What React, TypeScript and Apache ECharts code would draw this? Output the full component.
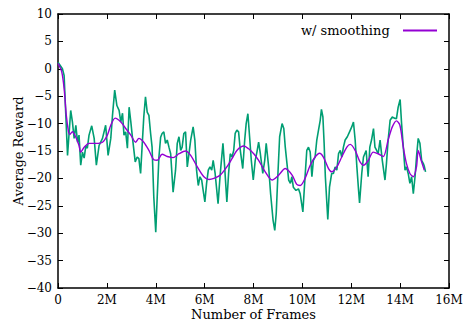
import React, { useEffect, useRef } from "react";
import * as echarts from "echarts";

// Raw average reward (green), frames in millions
const rawFrames = [
  0.0, 0.18, 0.25, 0.39, 0.52, 0.59, 0.66, 0.73, 0.8, 0.86, 0.93, 1.0, 1.07, 1.14, 1.2, 1.27, 1.38, 1.48, 1.57, 1.68,
  1.82, 1.95, 2.05, 2.16, 2.23, 2.32, 2.41, 2.5, 2.57, 2.64, 2.7, 2.77, 2.84, 2.91, 2.98, 3.05, 3.16, 3.24, 3.31, 3.38,
  3.44, 3.51, 3.58, 3.65, 3.72, 3.79, 3.85, 3.92, 4.0, 4.06, 4.13, 4.2, 4.26, 4.33, 4.4, 4.47, 4.54, 4.61, 4.71, 4.81,
  4.88, 4.95, 5.02, 5.08, 5.15, 5.22, 5.29, 5.36, 5.43, 5.53, 5.6, 5.67, 5.74, 5.81, 5.88, 5.94, 6.01, 6.08, 6.15, 6.22,
  6.29, 6.35, 6.43, 6.55, 6.64, 6.75, 6.82, 6.91, 6.98, 7.05, 7.12, 7.19, 7.25, 7.32, 7.39, 7.46, 7.56, 7.64, 7.7, 7.77,
  7.84, 7.91, 7.99, 8.07, 8.14, 8.21, 8.28, 8.38, 8.46, 8.52, 8.62, 8.7, 8.8, 8.87, 8.93, 9.0, 9.07, 9.17, 9.24, 9.3,
  9.37, 9.44, 9.51, 9.57, 9.63, 9.74, 9.84, 9.91, 10.02, 10.11, 10.18, 10.25, 10.32, 10.39, 10.45, 10.52, 10.59, 10.66, 10.73, 10.78,
  10.84, 10.89, 10.94, 11.04, 11.11, 11.2, 11.27, 11.34, 11.41, 11.48, 11.55, 11.61, 11.68, 11.75, 11.84, 11.93, 12.02, 12.09, 12.16, 12.23,
  12.3, 12.34, 12.43, 12.5, 12.61, 12.69, 12.76, 12.83, 12.91, 12.97, 13.04, 13.1, 13.18, 13.27, 13.38, 13.44, 13.51, 13.59, 13.68, 13.76,
  13.85, 13.92, 14.0, 14.06, 14.13, 14.2, 14.26, 14.33, 14.4, 14.47, 14.54, 14.61, 14.67, 14.74, 14.81, 14.88, 14.95, 14.99, 15.04,
];
const rawReward = [
  1.2, 0.0, -1.2, -15.8, -7.6, -9.7, -12.7, -10.3, -13.4, -12.1, -17.6, -15.2, -16.3, -14.0, -14.5, -12.1, -10.4, -12.7, -17.6, -14.0,
  -12.7, -10.3, -15.8, -12.7, -8.5, -3.9, -6.7, -7.6, -9.7, -8.1, -12.1, -11.5, -14.5, -7.0, -9.7, -12.7, -17.0, -16.1, -16.4, -19.1,
  -14.3, -8.8, -5.1, -7.9, -8.5, -11.8, -14.3, -23.4, -29.8, -23.4, -16.1, -12.5, -11.8, -11.5, -13.6, -13.0, -14.3, -15.5, -22.5, -18.5,
  -13.6, -12.4, -14.9, -14.3, -11.8, -11.5, -17.9, -15.5, -13.0, -10.6, -13.0, -18.5, -21.3, -19.7, -20.3, -22.2, -24.3, -20.9, -18.5, -17.9,
  -18.5, -16.7, -19.1, -24.6, -19.1, -13.6, -17.9, -24.3, -19.1, -15.5, -16.1, -14.9, -11.8, -11.2, -11.5, -14.9, -18.2, -13.0, -10.0, -8.2,
  -12.4, -16.7, -20.3, -16.7, -15.2, -13.4, -15.5, -19.1, -16.7, -13.6, -17.9, -22.8, -27.6, -29.5, -26.4, -19.1, -12.4, -10.0, -10.9, -14.3,
  -17.3, -20.3, -20.9, -19.7, -21.6, -22.2, -21.9, -22.8, -26.1, -19.7, -14.9, -14.3, -15.2, -19.7, -16.7, -16.1, -13.0, -11.2, -9.4, -7.4,
  -8.8, -13.6, -19.7, -27.5, -21.6, -19.1, -19.1, -17.9, -18.5, -15.5, -14.9, -16.1, -14.3, -13.0, -12.4, -11.5, -10.6, -9.7, -13.0, -17.9,
  -22.2, -24.5, -19.1, -16.1, -14.9, -19.7, -14.3, -13.0, -10.9, -14.3, -14.9, -15.5, -13.0, -16.7, -20.3, -17.3, -13.0, -9.4, -8.8, -9.0,
  -9.1, -7.0, -5.6, -10.0, -14.3, -18.5, -17.9, -19.1, -20.9, -19.7, -22.8, -19.7, -16.1, -12.7, -13.6, -16.7, -17.3, -17.8, -18.8,
];

// Smoothed average reward (purple)
const smoothFrames = [
  0.0, 0.15, 0.25, 0.34, 0.43, 0.48, 0.59, 0.73, 0.86, 0.93, 1.07, 1.27, 1.55, 1.82, 2.02, 2.16, 2.34, 2.57, 2.77, 2.98,
  3.18, 3.31, 3.51, 3.72, 3.92, 4.06, 4.26, 4.47, 4.71, 4.95, 5.22, 5.43, 5.7, 5.97, 6.18, 6.38, 6.64, 6.91, 7.12, 7.32,
  7.6, 7.8, 8.01, 8.21, 8.48, 8.76, 9.03, 9.3, 9.58, 9.77, 9.91, 10.11, 10.32, 10.52, 10.7, 10.86, 11.07, 11.2, 11.41, 11.61,
  11.82, 11.96, 12.16, 12.36, 12.5, 12.7, 12.9, 13.1, 13.31, 13.51, 13.68, 13.85, 13.99, 14.13, 14.26, 14.4, 14.54, 14.67, 14.74, 14.86,
  14.99,
];
const smoothReward = [
  1.0, -0.5, -3.6, -8.5, -11.5, -12.0, -11.5, -12.5, -14.0, -15.2, -14.3, -13.6, -13.6, -13.4, -12.1, -10.3, -9.0, -9.7, -10.9, -12.1,
  -13.4, -12.7, -13.4, -14.9, -16.6, -16.7, -15.6, -16.0, -16.2, -15.5, -15.0, -15.8, -17.9, -19.7, -20.2, -20.0, -19.4, -17.9, -16.4, -14.9,
  -14.1, -14.6, -15.5, -16.7, -18.8, -20.3, -19.4, -18.2, -19.4, -21.1, -21.3, -20.0, -17.6, -16.1, -15.4, -16.1, -18.2, -18.8, -17.9, -16.1,
  -14.3, -13.8, -14.9, -17.0, -17.6, -16.7, -15.2, -15.5, -16.0, -13.0, -10.6, -9.5, -10.3, -14.3, -17.3, -19.1, -19.7, -17.9, -14.9, -16.7,
  -18.5,
];

const xTicks = { min: 0, max: 16, interval: 2 };
const yTicks = { min: -40, max: 10, interval: 5 };

const FONT = "DejaVu Serif";

export default function App() {
  const ref = useRef<HTMLDivElement>(null);
  useEffect(() => {
    if (!ref.current) return;
    const chart = echarts.init(ref.current, null, { renderer: "svg" });
    const axisLine = { show: true, onZero: false, lineStyle: { color: "#000", width: 1.5 } };
    const tick = { show: true, inside: true, length: 5, lineStyle: { color: "#000", width: 1 } };
    const labelStyle = { color: "#000", fontFamily: FONT, fontSize: 12 };
    chart.setOption({
      animation: false,
      backgroundColor: "#fff",
      textStyle: { fontFamily: FONT },
      grid: {
        left: 58,
        right: 19,
        top: 14,
        bottom: 40,
        containLabel: false,
        outerBoundsMode: "none",
      },
      legend: {
        show: true,
        data: [{ name: "w/ smoothing", icon: "rect", textStyle: { fontFamily: FONT } }],
        right: 26,
        top: 19,
        align: "right",
        itemWidth: 34,
        itemHeight: 2,
        formatter: (n: string) => n + "  ",
        textStyle: { color: "#000", fontFamily: FONT, fontSize: 13 },
      },
      xAxis: [
        {
          type: "value",
          ...xTicks,
          position: "bottom",
          axisLine,
          axisTick: tick,
          splitLine: { show: false },
          axisLabel: {
            ...labelStyle,
            margin: 6,
            formatter: (v: number) => (v === 0 ? "0" : v + "M"),
          },
          name: "Number of Frames",
          nameLocation: "middle",
          nameGap: 20,
          nameMoveOverlap: false,
          nameTextStyle: { color: "#000", fontFamily: FONT, fontSize: 13 },
        },
        {
          type: "value",
          ...xTicks,
          position: "top",
          axisLine,
          axisTick: tick,
          splitLine: { show: false },
          axisLabel: { show: false },
        },
      ],
      yAxis: [
        {
          type: "value",
          ...yTicks,
          position: "left",
          axisLine,
          axisTick: tick,
          splitLine: { show: false },
          axisLabel: {
            ...labelStyle,
            margin: 6,
            formatter: (v: number) => String(v).replace("-", "\u2212"),
          },
          name: "Average Reward",
          nameLocation: "middle",
          nameGap: 33,
          nameMoveOverlap: false,
          nameTextStyle: { color: "#000", fontFamily: FONT, fontSize: 13 },
        },
        {
          type: "value",
          ...yTicks,
          position: "right",
          axisLine,
          axisTick: tick,
          splitLine: { show: false },
          axisLabel: { show: false },
        },
      ],
      series: [
        {
          name: "raw",
          type: "line",
          xAxisIndex: 0,
          yAxisIndex: 0,
          showSymbol: false,
          symbol: "none",
          data: rawFrames.map((f, i) => [f, rawReward[i]]),
          lineStyle: { color: "#009e73", width: 1.6 },
          itemStyle: { color: "#009e73" },
          z: 2,
        },
        {
          name: "w/ smoothing",
          type: "line",
          xAxisIndex: 0,
          yAxisIndex: 0,
          showSymbol: false,
          symbol: "none",
          smooth: 0.3,
          data: smoothFrames.map((f, i) => [f, smoothReward[i]]),
          lineStyle: { color: "#9400d3", width: 1.4 },
          itemStyle: { color: "#9400d3" },
          z: 3,
        },
      ],
    });
    return () => chart.dispose();
  }, []);
  return (
    <div
      ref={ref}
      style={{ position: "absolute", left: 0, top: 0, width: 468, height: 328 }}
    />
  );
}
